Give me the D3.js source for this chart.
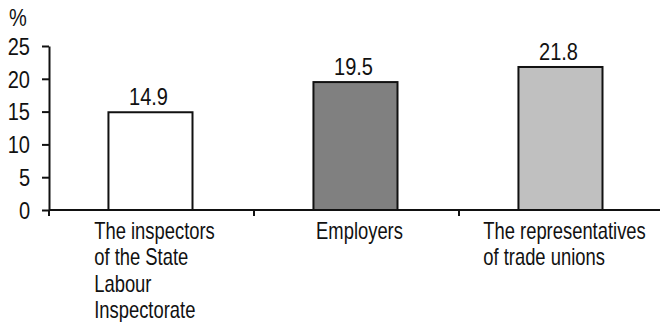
<!DOCTYPE html>
<html>
<head>
<meta charset="utf-8">
<script src="https://cdn.jsdelivr.net/npm/d3@7"></script>
<style>
  html, body { margin: 0; padding: 0; background: #fff; }
  svg { display: block; }
  text { font-family: "Liberation Sans", Arial, sans-serif; fill: #111; }
</style>
</head>
<body>
<svg id="chart" width="660" height="322"></svg>
<script>
// Share of respondents (%) by who they turn to
const categories = ["inspectors", "employers", "unions"];
const categoryLabels = [
  ["The inspectors", "of the State", "Labour", "Inspectorate"],
  ["Employers"],
  ["The representatives", "of trade unions"]
];
const values = [14.9, 19.5, 21.8];
const barFills = ["#ffffff", "#808080", "#c0c0c0"];
const yTicks = [0, 5, 10, 15, 20, 25];
const yUnit = "%";

const svg = d3.select("#chart");
const fontSize = 23;
const wordSqueeze = 0.80;   // condensed look for word labels
const numSqueeze = 0.87;    // condensed look for numerals

const x = d3.scaleBand().domain(categories).range([49, 664]).padding(0);
const y = d3.scaleLinear().domain([0, 25]).range([210, 46]);

const bw = x.bandwidth();
const barOffset = bw * 0.29;
const barWidth = bw * 0.41;

// Place a horizontally condensed text at (px, py)
function squeezed(g, px, py, sx) {
  return g.append("text")
    .attr("transform", `translate(${px},${py}) scale(${sx},1)`)
    .attr("font-size", fontSize);
}

// Bars
svg.append("g").selectAll("rect")
  .data(categories)
  .join("rect")
  .attr("x", (d) => x(d) + barOffset)
  .attr("y", (d, i) => y(values[i]))
  .attr("width", barWidth)
  .attr("height", (d, i) => y(0) - y(values[i]))
  .attr("fill", (d, i) => barFills[i])
  .attr("stroke", "#111")
  .attr("stroke-width", 2);

// Value labels
const valG = svg.append("g");
categories.forEach((c, i) => {
  squeezed(valG, x(c) + barOffset + barWidth / 2 - 2, y(values[i]) - 7, numSqueeze)
    .attr("text-anchor", "middle")
    .text(values[i].toFixed(1));
});

// Y axis
const yAxis = svg.append("g")
  .attr("transform", "translate(49,0)")
  .call(d3.axisLeft(y).tickValues(yTicks).tickSize(7).tickSizeOuter(0));
yAxis.select(".domain").attr("stroke", "#111").attr("stroke-width", 2);
yAxis.selectAll(".tick line").attr("stroke", "#111").attr("stroke-width", 2);
yAxis.selectAll(".tick text")
  .attr("font-size", fontSize)
  .attr("font-family", null)
  .attr("fill", "#111")
  .attr("x", 0)
  .attr("dy", "0.36em")
  .attr("transform", `translate(-19,0) scale(${numSqueeze},1)`);

// X axis with ticks at category boundaries
const xAxisG = svg.append("g");
xAxisG.append("line")
  .attr("x1", x.range()[0]).attr("x2", x.range()[1])
  .attr("y1", y(0)).attr("y2", y(0))
  .attr("stroke", "#111").attr("stroke-width", 2);
const boundaries = categories.map((d) => x(d)).concat([x.range()[1]]);
xAxisG.selectAll("line.b")
  .data(boundaries)
  .join("line")
  .attr("class", "b")
  .attr("x1", (d) => d).attr("x2", (d) => d)
  .attr("y1", y(0)).attr("y2", y(0) + 6)
  .attr("stroke", "#111").attr("stroke-width", 2);

// Category labels: multi-line, left-aligned block centred under each bar
const labelG = svg.append("g");
categories.forEach((c, i) => {
  const t = squeezed(labelG, 0, 239, wordSqueeze);
  categoryLabels[i].forEach((line, j) => {
    t.append("tspan")
      .attr("x", 0)
      .attr("y", j * 26.3)
      .text(line);
  });
  const w = t.node().getBBox().width * wordSqueeze;
  const left = x(c) + bw / 2 + 3 - w / 2;
  t.attr("transform", `translate(${left},239) scale(${wordSqueeze},1)`);
});

// Unit label
squeezed(svg, 9, 26, numSqueeze).text(yUnit);
</script>
</body>
</html>
